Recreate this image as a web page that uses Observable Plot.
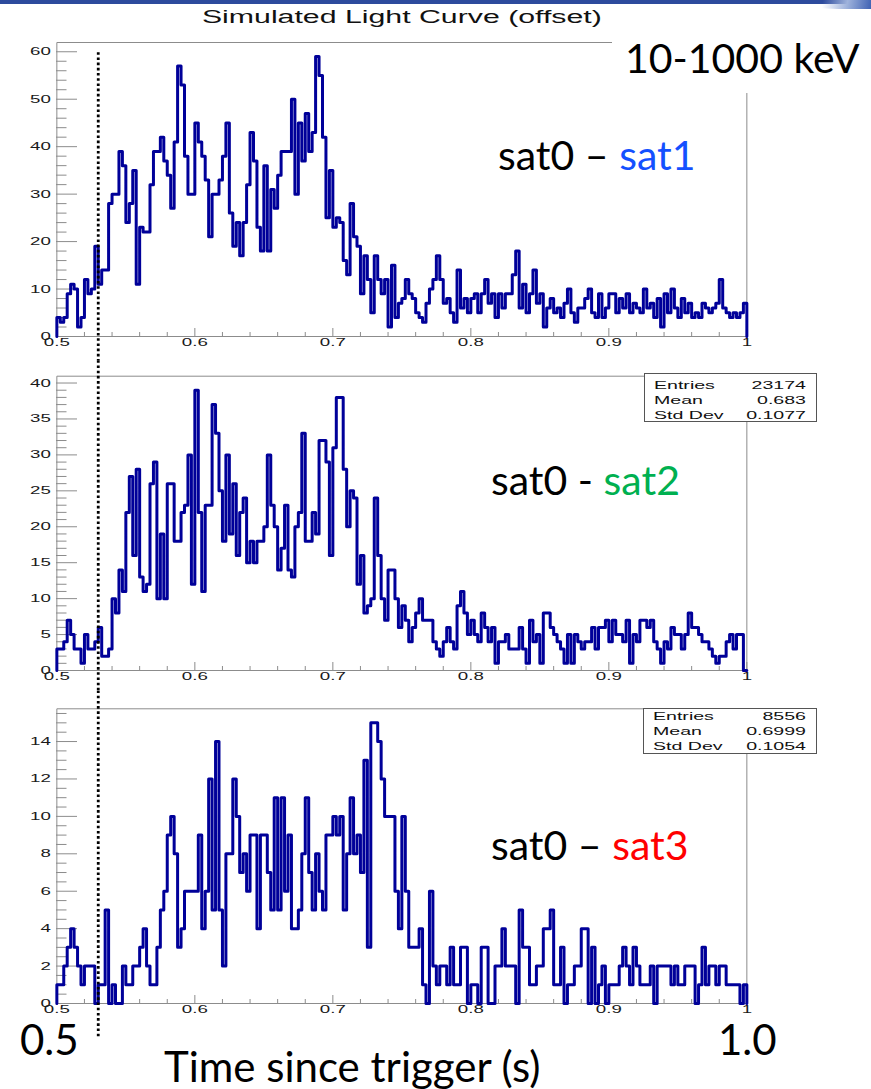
<!DOCTYPE html>
<html>
<head>
<meta charset="utf-8">
<script src="https://cdn.jsdelivr.net/npm/d3@7"></script>
<script src="https://cdn.jsdelivr.net/npm/@observablehq/plot@0.6"></script>
<style>
  html, body { margin: 0; padding: 0; background: #fff; }
  #root { position: relative; width: 871px; height: 1089px; overflow: hidden; background: #fff; }
  .panel { position: absolute; left: 0; }
  .panel svg { display: block; overflow: visible; }
  .panel svg * { vector-effect: non-scaling-stroke; }
  .big { position: absolute; font-family: Lato, "Open Sans", sans-serif; color: #000; white-space: nowrap; line-height: 1; }
  .stats { position: absolute; border: 1px solid #555; background: #fff; box-sizing: border-box; overflow: hidden; }
  .stats .inner { transform-origin: 0 0; font-family: "Liberation Sans", Arial, sans-serif; font-size: 11.5px; color: #111; }
  .stats .row { display: flex; justify-content: space-between; height: 15px; line-height: 15px; }
</style>
</head>
<body>
<div id="root"></div>
<script>
// ---------------- data ----------------
const title = "Simulated Light Curve (offset)";
const binStart = 0.5;
const binWidth = 0.0025;

// sat0 – sat1 (counts per bin, 200 bins from 0.5 to 1.0 s)
const sat1Counts = [
  4,3,4,9,11,10,2,4,12,9,
  10,19,11,14,14,28,30,30,39,36,
  24,28,35,11,23,22,22,32,39,39,
  42,37,34,27,41,57,53,38,30,30,
  45,41,38,33,21,30,30,33,38,45,
  26,19,24,17,24,32,43,37,23,18,
  36,18,31,27,34,39,39,39,50,30,
  45,37,47,39,43,59,55,42,25,35,
  23,25,24,16,13,28,21,19,9,17,
  12,5,17,12,9,12,2,15,4,7,
  8,12,9,8,5,4,3,7,10,12,
  17,12,7,8,5,3,14,6,8,5,
  8,9,5,9,12,7,9,4,9,6,
  9,9,13,18,6,11,5,9,14,7,
  9,2,6,8,5,6,4,7,10,5,
  3,6,6,8,10,5,4,9,4,6,
  9,9,5,8,6,9,5,7,6,5,
  10,6,7,4,8,2,9,5,10,6,
  4,8,5,7,4,5,4,7,6,5,
  6,7,12,6,5,4,5,4,5,7
];

// sat0 - sat2
const sat2Counts = [
  3,3,4,7,5,3,3,1,5,3,
  3,4,6,2,2,3,10,8,14,11,
  22,27,16,28,13,11,12,26,29,10,
  19,10,26,26,18,18,22,23,30,12,
  39,22,11,23,23,37,33,25,18,30,
  19,26,16,22,24,15,18,15,18,18,
  20,30,23,20,14,17,23,14,13,20,
  22,33,18,18,22,19,32,32,29,16,
  31,38,38,28,20,25,24,12,16,8,
  9,10,24,16,10,7,14,14,10,6,
  9,7,4,6,8,10,7,7,7,4,
  3,2,4,6,4,3,9,11,8,5,
  7,5,4,8,6,4,6,1,4,4,
  5,3,3,3,6,3,1,7,4,5,
  1,8,8,6,5,4,3,1,5,1,
  5,4,3,4,4,6,3,6,6,7,
  4,7,5,5,4,7,1,5,4,7,
  7,6,7,4,3,1,4,3,6,5,
  5,3,5,8,6,6,5,4,4,3,
  2,1,2,2,4,5,3,5,5,0
];

// sat0 – sat3
const sat3Counts = [
  1,1,2,3,4,3,2,1,2,2,
  2,0,1,1,5,0,1,0,0,2,
  1,1,2,2,3,4,2,1,1,3,
  5,6,9,10,8,3,4,6,6,6,
  6,9,4,6,12,5,14,5,2,8,
  8,12,10,7,8,6,9,9,4,9,
  9,7,5,11,5,11,6,9,4,4,
  5,8,11,7,5,8,6,5,9,9,
  10,9,10,5,8,11,8,9,7,13,
  3,15,15,14,12,10,10,10,6,4,
  10,6,3,3,3,4,1,0,6,2,
  1,2,2,1,3,1,1,3,3,0,
  1,1,0,3,3,0,0,2,2,4,
  2,2,2,0,5,3,3,1,1,2,
  2,4,4,5,1,1,3,0,1,1,
  2,2,4,4,0,3,0,1,2,0,
  1,1,1,2,3,2,1,3,2,1,
  1,1,2,0,2,2,2,2,1,2,
  1,1,2,2,2,0,1,3,1,2,
  2,1,2,2,1,1,1,1,0,1
];

const xMajor = [0.5, 0.6, 0.7, 0.8, 0.9, 1.0];
const xMajorLabels = ["0.5", "0.6", "0.7", "0.8", "0.9", "1"];
const y1Major = [0, 10, 20, 30, 40, 50, 60];
const y2Major = [0, 5, 10, 15, 20, 25, 30, 35, 40];
const y3Major = [0, 2, 4, 6, 8, 10, 12, 14];
const triggerTime = 0.53;

const stats2 = [["Entries", "23174"], ["Mean", "0.683"], ["Std Dev", "0.1077"]];
const stats3 = [["Entries", "8556"], ["Mean", "0.6999"], ["Std Dev", "0.1054"]];

const energyLabel = "10-1000 keV";
const pairLabels = [
  [["sat0 – ", "#000"], ["sat1", "#1450ff"]],
  [["sat0 - ", "#000"], ["sat2", "#00b050"]],
  [["sat0 – ", "#000"], ["sat3", "#ff0000"]]
];
const axisTitle = "Time since trigger (s)";
const axisEnds = ["0.5", "1.0"];

// ---------------- layout ----------------
const root = document.getElementById("root");
const W = 512;               // internal plot width (the ROOT canvas is stretched horizontally)
const S = 871 / W;           // horizontal stretch factor
const ML = 56 / S, MR = W - 746 / S;
const xLabelMap = new Map(xMajor.map((d, i) => [d, xMajorLabels[i]]));
const isMajor = (majors, v) => majors.some(m => Math.abs(m - v) < 1e-9);

function makePanel(cfg) {
  const {counts, yMax, yMajor, yMinorStep, top, height, mTop, mBottom, ruleTop, ruleBottom, extra = []} = cfg;
  const pts = [{t: binStart, v: 0}];
  counts.forEach((v, i) => pts.push({t: binStart + i * binWidth, v}));
  pts.push({t: binStart + counts.length * binWidth, v: counts[counts.length - 1]});
  pts.push({t: binStart + counts.length * binWidth, v: 0});

  const yMinor = d3.range(0, yMax + 1e-9, yMinorStep).filter(v => !isMajor(yMajor, v));
  const xMinor = d3.range(0, 26).map(i => 0.5 + i * 0.02).filter(v => !isMajor(xMajor, v));

  const svg = Plot.plot({
    width: W, height,
    marginTop: mTop, marginBottom: mBottom, marginLeft: ML, marginRight: MR,
    x: {domain: [0.5, 1.0], label: null},
    y: {domain: [0, yMax], label: null},
    style: {background: "transparent", overflow: "visible", fontFamily: "'Liberation Sans', Arial, sans-serif", color: "#1a1a1a"},
    marks: [
      Plot.frame({stroke: "#8c8c8c"}),
      Plot.axisY({ticks: yMajor, tickSize: 21 / S, dx: 21 / S, tickFormat: () => "", color: "#8c8c8c", label: null}),
      Plot.axisY({ticks: yMinor, tickSize: 10.5 / S, dx: 10.5 / S, tickFormat: () => "", color: "#8c8c8c", label: null}),
      Plot.axisY({ticks: yMajor, tickSize: 0, tickPadding: 3.5, fontSize: 11, color: "#1a1a1a", label: null}),
      Plot.axisX({ticks: xMajor, tickSize: 8, dy: -8, tickFormat: () => "", color: "#8c8c8c", label: null}),
      Plot.axisX({ticks: xMinor, tickSize: 4, dy: -4, tickFormat: () => "", color: "#8c8c8c", label: null}),
      Plot.axisX({ticks: xMajor, tickSize: 0, tickPadding: 2, fontSize: 11, color: "#1a1a1a", tickFormat: d => xLabelMap.get(d), label: null}),
      Plot.line(pts, {x: "t", y: "v", curve: "step-after", stroke: "#000099", strokeWidth: 3}),
      Plot.ruleX([triggerTime], {y1: ruleTop, y2: ruleBottom, stroke: "#000", strokeWidth: 2.8, strokeDasharray: "2.6,2.6"}),
      ...extra
    ]
  });
  const el = svg.tagName.toLowerCase() === "svg" ? svg : svg.querySelector("svg");
  el.setAttribute("width", 871);
  el.setAttribute("height", height);
  el.setAttribute("preserveAspectRatio", "none");
  el.style.width = "871px";
  el.style.height = height + "px";
  el.style.maxWidth = "none";
  const wrap = document.createElement("div");
  wrap.className = "panel";
  wrap.style.top = top + "px";
  wrap.appendChild(svg);
  root.appendChild(wrap);
}

makePanel({
  counts: sat1Counts, yMax: 61.95, yMajor: y1Major, yMinorStep: 2,
  top: 0, height: 360, mTop: 42, mBottom: 24, ruleTop: 59.8, ruleBottom: -5.1,
  extra: [Plot.text([title], {frameAnchor: "top", dy: -20, lineAnchor: "bottom", fontSize: 17.8, fill: "#111"})]
});
makePanel({
  counts: sat2Counts, yMax: 40.95, yMajor: y2Major, yMinorStep: 1,
  top: 360, height: 330, mTop: 15.7, mBottom: 20, ruleTop: 43.1, ruleBottom: -2.8
});
makePanel({
  counts: sat3Counts, yMax: 15.75, yMajor: y3Major, yMinorStep: 0.5,
  top: 690, height: 360, mTop: 18.3, mBottom: 47, ruleTop: 16.7, ruleBottom: -1.9
});

// ---------------- overlays ----------------
function addDiv(style) {
  const d = document.createElement("div");
  Object.assign(d.style, {position: "absolute"}, style);
  root.appendChild(d);
  return d;
}
// top banner strip
addDiv({left: "0px", top: "0px", width: "871px", height: "4px", background: "#2d4b9d"});
addDiv({left: "790px", top: "0px", width: "81px", height: "9px", background: "linear-gradient(100deg, rgba(255,255,255,0) 0%, rgba(255,255,255,0) 40%, #9fb3dc 70%, #3f62b3 100%)", borderBottomLeftRadius: "60px 8px"});
// white box behind energy label
addDiv({left: "612px", top: "30px", width: "259px", height: "63px", background: "#fff"});

function bigText(parts, x, baseline, size) {
  const d = addDiv({left: x + "px", top: (baseline - 0.887 * size) + "px", fontSize: size + "px"});
  d.className = "big";
  parts.forEach(([txt, col]) => {
    const s = document.createElement("span");
    s.textContent = txt;
    s.style.color = col;
    d.appendChild(s);
  });
}
bigText([[energyLabel, "#000"]], 625, 73, 41);
bigText(pairLabels[0], 498, 170, 41);
bigText(pairLabels[1], 491, 495, 41);
bigText(pairLabels[2], 491, 860, 41);
bigText([[axisEnds[0], "#000"]], 20, 1055, 42);
bigText([[axisEnds[1], "#000"]], 718, 1055, 42);
bigText([[axisTitle, "#000"]], 164, 1082, 42);

function statsBox(rows, left, top, w, h, padTop) {
  const box = addDiv({left: left + "px", top: top + "px", width: w + "px", height: h + "px"});
  box.className = "stats";
  const inner = document.createElement("div");
  inner.className = "inner";
  inner.style.width = ((w - 2 - 9 - 10) / S) + "px";
  inner.style.transform = `translate(9px, ${padTop}px) scaleX(${S})`;
  rows.forEach(([k, v]) => {
    const r = document.createElement("div");
    r.className = "row";
    const a = document.createElement("span"); a.textContent = k;
    const b = document.createElement("span"); b.textContent = v;
    r.appendChild(a); r.appendChild(b);
    inner.appendChild(r);
  });
  box.appendChild(inner);
}
statsBox(stats2, 644, 373, 173, 49, 3.5);
statsBox(stats3, 643, 708, 174, 46, 0);
</script>
</body>
</html>
